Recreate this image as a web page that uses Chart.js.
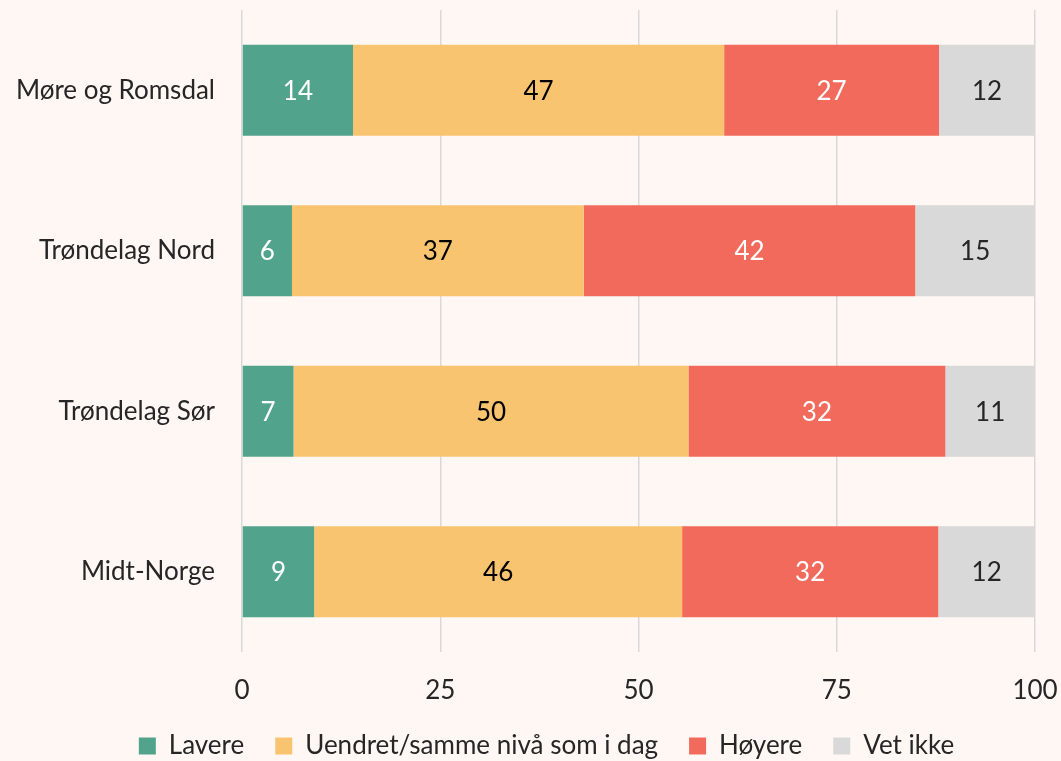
<!DOCTYPE html>
<html lang="no">
<head>
<meta charset="utf-8">
<script src="https://cdn.jsdelivr.net/npm/chart.js@4"></script>
<style>
  body { margin: 0; background: #fff7f3; }
  canvas { display: block; }
</style>
</head>
<body>
<canvas id="myChart" width="1061" height="761"></canvas>
<script>
const regions = ['Møre og Romsdal', 'Trøndelag Nord', 'Trøndelag Sør', 'Midt-Norge'];
const seriesNames = ['Lavere', 'Uendret/samme nivå som i dag', 'Høyere', 'Vet ikke'];
const lavere = [14.0, 6.3, 6.5, 9.1];
const uendret = [46.8, 36.8, 49.8, 46.4];
const hoyere = [27.1, 41.8, 32.4, 32.3];
const vetIkke = [12.1, 15.1, 11.3, 12.2];
const xTicks = [0, 25, 50, 75, 100];

const colors = ['#52a38b', '#f9c46f', '#f26a5b', '#d9d9d9'];
const labelColors = ['#ffffff', '#000000', '#ffffff', '#262626'];
const textColor = '#262626';
const fontFamily = 'Lato, "Open Sans", sans-serif';
const fontSize = 26;

// tall i midten av hver del
const barLabels = {
  id: 'barLabels',
  afterDatasetsDraw(chart) {
    const ctx = chart.ctx;
    ctx.save();
    ctx.font = fontSize + 'px ' + fontFamily;
    ctx.textAlign = 'center';
    ctx.textBaseline = 'middle';
    chart.data.datasets.forEach((ds, i) => {
      chart.getDatasetMeta(i).data.forEach((bar, j) => {
        const p = bar.getCenterPoint();
        ctx.fillStyle = labelColors[i];
        ctx.fillText(Math.round(ds.data[j]), p.x, p.y + 1);
      });
    });
    ctx.restore();
  }
};

// flytt legenden litt mot høyre, som i originalen
const legendShift = {
  id: 'legendShift',
  afterLayout(chart) {
    chart.legend.left += 29;
    chart.legend.right += 29;
  }
};

const allData = [lavere, uendret, hoyere, vetIkke];

const ctx = document.getElementById('myChart');
const myChart = new Chart(ctx, {
  type: 'bar',
  data: {
    labels: regions,
    datasets: seriesNames.map((name, i) => ({
      label: name,
      data: allData[i],
      backgroundColor: colors[i],
      borderWidth: 0,
      barPercentage: 0.567,
      categoryPercentage: 1
    }))
  },
  options: {
    indexAxis: 'y',
    responsive: false,
    animation: false,
    layout: { padding: { top: 10, right: 26, left: 0, bottom: -8 } },
    scales: {
      x: {
        stacked: true,
        min: 0,
        max: 100,
        afterBuildTicks: (scale) => { scale.ticks = xTicks.map(v => ({ value: v })); },
        afterFit: (scale) => {
          scale.height = 50;
          scale.paddingLeft = 0;
          scale.paddingRight = 0;
        },
        border: { display: false },
        grid: { color: '#d9d9d9', lineWidth: 1.5, drawTicks: false },
        ticks: { color: textColor, padding: 23, font: { family: fontFamily, size: fontSize } }
      },
      y: {
        stacked: true,
        afterFit: (scale) => {
          scale.width = 242;
          scale.paddingTop = 0;
          scale.paddingBottom = 0;
        },
        border: { display: false },
        grid: { display: false, drawTicks: false },
        ticks: { color: textColor, padding: 27, font: { family: fontFamily, size: fontSize } }
      }
    },
    plugins: {
      tooltip: { enabled: false },
      legend: {
        position: 'bottom',
        labels: {
          color: textColor,
          boxWidth: 17,
          boxHeight: 17,
          padding: 31,
          font: { family: fontFamily, size: fontSize }
        }
      }
    }
  },
  plugins: [barLabels, legendShift]
});
</script>
</body>
</html>
